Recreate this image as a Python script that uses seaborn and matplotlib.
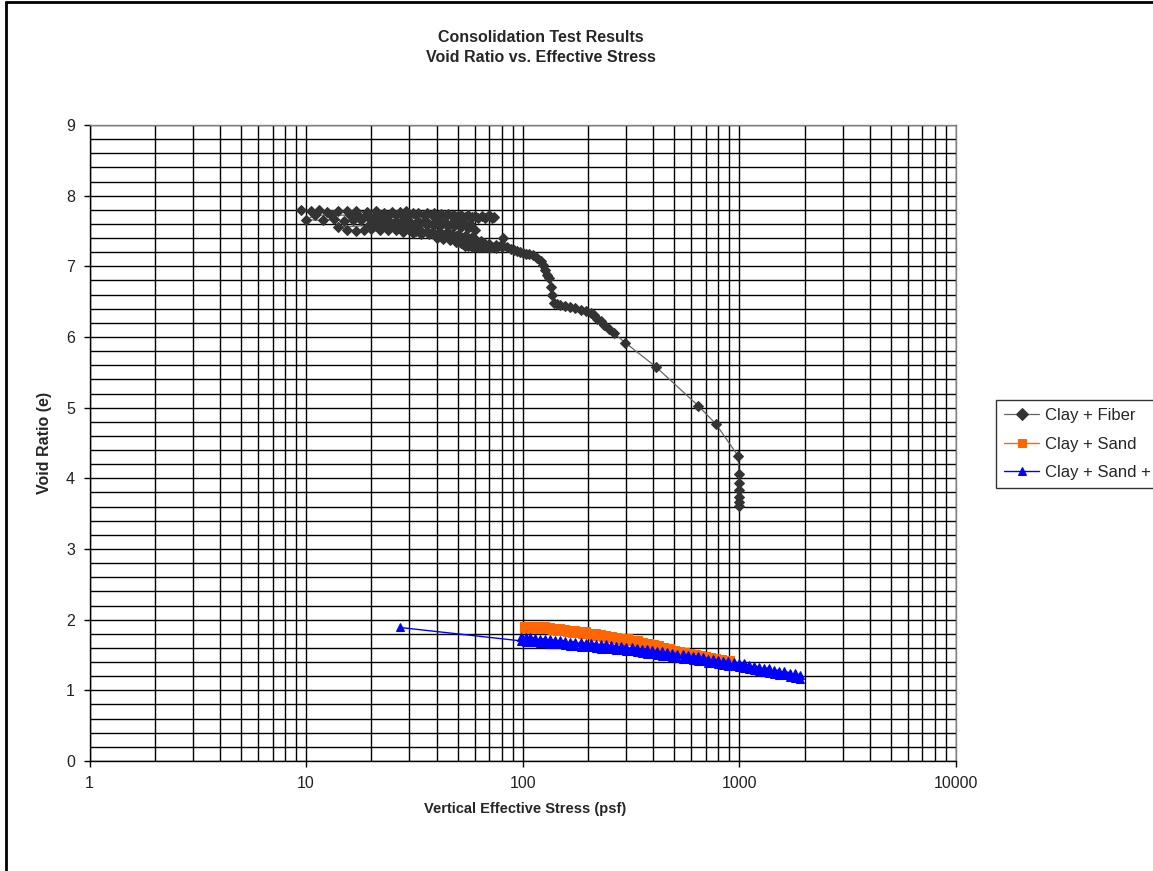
import numpy as np
import pandas as pd
import matplotlib
matplotlib.use("Agg")
import matplotlib.pyplot as plt
from matplotlib.lines import Line2D
from matplotlib.ticker import LogLocator, NullFormatter, MultipleLocator
import seaborn as sns

# ---------------- data ----------------
title_lines = ["Consolidation Test Results", "Void Ratio vs. Effective Stress"]
x_label = "Vertical Effective Stress (psf)"
y_label = "Void Ratio (e)"
x_ticks = [1, 10, 100, 1000, 10000]
x_tick_labels = ["1", "10", "100", "1000", "10000"]
y_ticks = [0, 1, 2, 3, 4, 5, 6, 7, 8, 9]
series_names = ["Clay + Fiber", "Clay + Sand", "Clay + Sand + Fiber"]

# Clay + Fiber (time-ordered readings; cluster rows then main curve)
fiber_stress = [
    # row ~7.78
    9.5, 10.5, 11.5, 12.5, 14, 15.5, 17, 19, 21, 23, 25, 27, 29, 31, 33, 36, 39, 42, 45, 48, 52, 56, 60, 65, 70, 74,
    # row ~7.71
    72, 67, 62, 58, 54, 50, 47, 44, 41, 38, 35, 32, 30, 28, 26, 24, 22, 20.5, 19, 17.5, 16, 13, 11,
    # row ~7.65
    10, 12, 13.5, 15, 16.5, 18, 20, 22, 24, 26, 28, 30, 33, 36, 40, 44, 48, 52, 57,
    # row ~7.62
    55, 51, 47, 43, 39, 35, 32,
    # row ~7.58
    60, 56, 52, 48, 45, 42, 39, 36, 33, 31, 29, 27, 25, 23, 21, 19.5,
    # row ~7.51
    14, 15.5, 17, 18.5, 20, 22, 24, 26, 28, 30, 32, 34, 36, 38, 41, 44, 47, 50, 54, 58,
    # row ~7.44
    64, 60, 56, 52, 49, 46, 43, 40, 37, 34, 31, 28,
    # row ~7.40
    46, 50, 54, 58, 62, 66, 70,
    # row ~7.36
    40, 43, 46, 49, 52, 55, 58, 62, 66, 70, 75, 79,
    # row ~7.29
    76, 72, 68, 64, 60, 56, 53, 50,
    # row ~7.27 to curve
    54, 58, 62, 66, 70, 75, 80,
    81, 85, 88, 91, 94, 97, 100, 103, 107, 112, 116, 121, 124, 127, 130, 132.5, 134.5, 137, 139, 144, 149, 157,
    166, 175, 185, 195, 206, 213, 220, 229, 238, 250, 264, 297, 411,
    644, 779, 990, 992, 994, 995, 996, 997, 998,
]
fiber_e = [
    7.80, 7.78, 7.80, 7.77, 7.79, 7.78, 7.78, 7.77, 7.78, 7.76, 7.77, 7.77, 7.78, 7.76, 7.76, 7.75, 7.75, 7.74, 7.74, 7.73, 7.72, 7.72, 7.71, 7.71, 7.72, 7.70,
    7.68, 7.69, 7.69, 7.70, 7.70, 7.71, 7.71, 7.72, 7.72, 7.72, 7.73, 7.72, 7.73, 7.71, 7.72, 7.71, 7.72, 7.70, 7.72, 7.71, 7.72, 7.73, 7.72,
    7.66, 7.65, 7.67, 7.64, 7.66, 7.65, 7.66, 7.65, 7.66, 7.64, 7.65, 7.64, 7.64, 7.63, 7.64, 7.62, 7.62, 7.61, 7.60,
    7.57, 7.60, 7.61, 7.62, 7.62, 7.63, 7.62,
    7.52, 7.54, 7.56, 7.57, 7.57, 7.58, 7.58, 7.59, 7.59, 7.58, 7.59, 7.58, 7.59, 7.58, 7.57, 7.58,
    7.55, 7.52, 7.50, 7.52, 7.53, 7.52, 7.52, 7.51, 7.51, 7.51, 7.50, 7.50, 7.49, 7.49, 7.48, 7.47, 7.46, 7.45, 7.43, 7.41,
    7.36, 7.38, 7.40, 7.42, 7.43, 7.44, 7.45, 7.45, 7.46, 7.46, 7.47, 7.48,
    7.41, 7.39, 7.37, 7.35, 7.34, 7.33, 7.32,
    7.40, 7.39, 7.37, 7.35, 7.33, 7.32, 7.31, 7.31, 7.31, 7.30, 7.30, 7.30,
    7.27, 7.27, 7.27, 7.28, 7.28, 7.29, 7.31, 7.34,
    7.29, 7.28, 7.27, 7.27, 7.26, 7.26, 7.27,
    7.40, 7.28, 7.25, 7.23, 7.22, 7.20, 7.19, 7.17, 7.17, 7.16, 7.12, 7.07, 7.02, 6.95, 6.88, 6.83, 6.71, 6.60, 6.48, 6.46, 6.45, 6.44,
    6.43, 6.41, 6.38, 6.37, 6.34, 6.31, 6.26, 6.22, 6.17, 6.12, 6.05, 5.92, 5.58,
    5.03, 4.77, 4.31, 4.06, 3.94, 3.83, 3.74, 3.67, 3.61,
]

# Clay + Sand (upper and lower readings at each load step)
sand_stress = [100, 105, 110, 116, 122, 128, 135, 142, 150, 158, 167, 176, 186, 197, 208, 220, 233, 246, 260, 275,
               291, 308, 325, 344, 364, 385, 407, 430, 455, 481, 508, 537, 568, 600, 634, 670, 708, 749, 792, 837,
               885, 914]
sand_e_upper = [1.93, 1.93, 1.93, 1.93, 1.92, 1.92, 1.91, 1.90, 1.89, 1.88, 1.87, 1.87, 1.86, 1.85, 1.83, 1.82, 1.81,
                1.80, 1.78, 1.77, 1.76, 1.75, 1.73, 1.72, 1.70, 1.68, 1.67, 1.65, 1.63, 1.61, 1.59, 1.57, 1.56, 1.54,
                1.53, 1.51, 1.50, 1.48, 1.47, 1.46, 1.45, 1.44]
sand_e_lower = [1.86, 1.86, 1.86, 1.86, 1.85, 1.85, 1.84, 1.83, 1.82, 1.81, 1.80, 1.80, 1.79, 1.78, 1.76, 1.75, 1.74,
                1.73, 1.71, 1.70, 1.69, 1.68, 1.66, 1.65, 1.63, 1.61, 1.60, 1.58, 1.56, 1.54, 1.52, 1.50, 1.49, 1.47,
                1.46, 1.44, 1.43, 1.41, 1.40, 1.39, 1.38, 1.37]

# Clay + Sand + Fiber
sf_first_stress = [27]
sf_first_e = [1.89]
sf_stress = [98, 103, 108, 114, 120, 127, 134, 141, 149, 157, 166, 175, 185, 195, 206, 218, 230, 243, 256, 270,
             285, 301, 318, 336, 354, 374, 395, 417, 440, 465, 491, 518, 547, 577, 609, 643, 679, 717, 757, 799,
             843, 890, 940, 992, 1047, 1105, 1167, 1232, 1300, 1373, 1449, 1530, 1615, 1705, 1800, 1900]
sf_e_upper = [1.76, 1.75, 1.75, 1.74, 1.73, 1.73, 1.72, 1.71, 1.71, 1.70, 1.69, 1.69, 1.68, 1.67, 1.67, 1.66, 1.65,
              1.65, 1.64, 1.63, 1.63, 1.62, 1.61, 1.60, 1.59, 1.58, 1.57, 1.56, 1.55, 1.54, 1.53, 1.52, 1.51, 1.50,
              1.49, 1.48, 1.47, 1.45, 1.44, 1.43, 1.42, 1.41, 1.40, 1.39, 1.38, 1.36, 1.35, 1.33, 1.32, 1.31, 1.29,
              1.28, 1.27, 1.25, 1.24, 1.22]
sf_e_lower = [1.70, 1.69, 1.69, 1.68, 1.67, 1.67, 1.66, 1.65, 1.65, 1.64, 1.63, 1.63, 1.62, 1.61, 1.61, 1.60, 1.59,
              1.59, 1.58, 1.57, 1.57, 1.56, 1.55, 1.54, 1.53, 1.52, 1.51, 1.50, 1.49, 1.48, 1.47, 1.46, 1.45, 1.44,
              1.43, 1.42, 1.41, 1.39, 1.38, 1.37, 1.36, 1.35, 1.34, 1.33, 1.31, 1.30, 1.29, 1.27, 1.26, 1.25, 1.23,
              1.22, 1.21, 1.19, 1.18, 1.16]


def zigzag(stress, upper, lower, lower_first=False):
    xs, ys = [], []
    for i, (s, u, l) in enumerate(zip(stress, upper, lower)):
        pair = [l, u] if ((i % 2 == 0) == lower_first) else [u, l]
        for v in pair:
            xs.append(s)
            ys.append(v)
    return xs, ys


sand_x, sand_y = zigzag(sand_stress, sand_e_upper, sand_e_lower)
sf_x, sf_y = zigzag(sf_stress, sf_e_upper, sf_e_lower, lower_first=True)
sf_x = sf_first_stress + sf_x
sf_y = sf_first_e + sf_y

df_fiber = pd.DataFrame({"stress": fiber_stress, "e": fiber_e})
df_sand = pd.DataFrame({"stress": sand_x, "e": sand_y})
df_sf = pd.DataFrame({"stress": sf_x, "e": sf_y})

# ---------------- plot ----------------
sns.set_theme(style="white")
plt.rcParams["font.family"] = ["Liberation Sans", "DejaVu Sans"]

W, H = 1153, 871
fig = plt.figure(figsize=(W / 100, H / 100), dpi=100)
fig.patch.set_facecolor("white")
L, R, T, B = 89.5, 956, 125, 761
ax = fig.add_axes([L / W, 1 - B / H, (R - L) / W, (B - T) / H])
ax.set_facecolor("white")

ax.set_xscale("log")
ax.set_xlim(1, 10000)
ax.set_ylim(0, 9)

# grid
ax.xaxis.set_minor_locator(LogLocator(base=10, subs=np.arange(2, 10)))
ax.xaxis.set_minor_formatter(NullFormatter())
ax.yaxis.set_minor_locator(MultipleLocator(0.2))
ax.grid(which="both", axis="both", color="black", linewidth=1.0)
ax.set_axisbelow(True)

ORANGE = "#FF6600"
BLUE = "#0000FF"

sns.lineplot(data=df_fiber, x="stress", y="e", ax=ax, sort=False, estimator=None,
             color="#666666", linewidth=0.9, marker="D", markersize=5.6,
             markerfacecolor="#333333", markeredgecolor="#333333", label=series_names[0])

# dense readings shown as solid bands between upper and lower readings
ax.fill_between(sand_stress, sand_e_lower, sand_e_upper, color=ORANGE, linewidth=0)
sns.lineplot(data=df_sand, x="stress", y="e", ax=ax, sort=False, estimator=None,
             color=ORANGE, linewidth=1.0, marker="s", markersize=4.5,
             markerfacecolor=ORANGE, markeredgecolor=ORANGE, label=series_names[1])
ax.fill_between(sf_stress, sf_e_lower, sf_e_upper, color=BLUE, linewidth=0)
sns.lineplot(data=df_sf, x="stress", y="e", ax=ax, sort=False, estimator=None,
             color=BLUE, linewidth=1.0, marker="^", markersize=5.5,
             markerfacecolor=BLUE, markeredgecolor=BLUE, label=series_names[2])

ax.set_xticks(x_ticks, labels=x_tick_labels)
ax.set_yticks(y_ticks, labels=[str(v) for v in y_ticks])
ax.tick_params(axis="both", which="major", direction="out", length=4.5, width=1.0,
               color="black", labelsize=11.5, pad=6, labelcolor="#222222")
ax.tick_params(axis="both", which="minor", length=0)
ax.tick_params(axis="x", bottom=True)
ax.tick_params(axis="y", left=True)

for side in ["left", "bottom"]:
    ax.spines[side].set_color("black")
    ax.spines[side].set_linewidth(1.0)
for side in ["top", "right"]:
    ax.spines[side].set_color("#808080")
    ax.spines[side].set_linewidth(1.0)

ax.set_xlabel("")
ax.set_ylabel("")
fig.text(525 / W, 1 - 809 / H, x_label, ha="center", va="center", fontsize=10.5, fontweight="bold")
fig.text(45 / W, 1 - 443 / H, y_label, ha="center", va="center", rotation=90, fontsize=11.5, fontweight="bold")
fig.text(541 / W, 1 - 37 / H, title_lines[0], ha="center", va="center", fontsize=11.5, fontweight="bold")
fig.text(541 / W, 1 - 57 / H, title_lines[1], ha="center", va="center", fontsize=11.5, fontweight="bold")

leg = ax.legend(loc="upper left", bbox_to_anchor=(996 / W, 1 - 400 / H), bbox_transform=fig.transFigure,
                frameon=True, fancybox=False, shadow=False, fontsize=12, handlelength=2.1,
                handletextpad=0.35, borderpad=0.5, labelspacing=0.8, borderaxespad=0)
leg.get_frame().set_edgecolor("black")
leg.get_frame().set_linewidth(1.0)
for h in leg.legend_handles:
    h.set_markersize(6)

# figure border (left and top edges)
fig.add_artist(Line2D([6 / W, 6 / W], [0, 1 - 2 / H], transform=fig.transFigure, color="black", linewidth=2))
fig.add_artist(Line2D([6 / W, 1], [1 - 2 / H, 1 - 2 / H], transform=fig.transFigure, color="black", linewidth=2))

fig.savefig("out.png", dpi=100, facecolor="white")
